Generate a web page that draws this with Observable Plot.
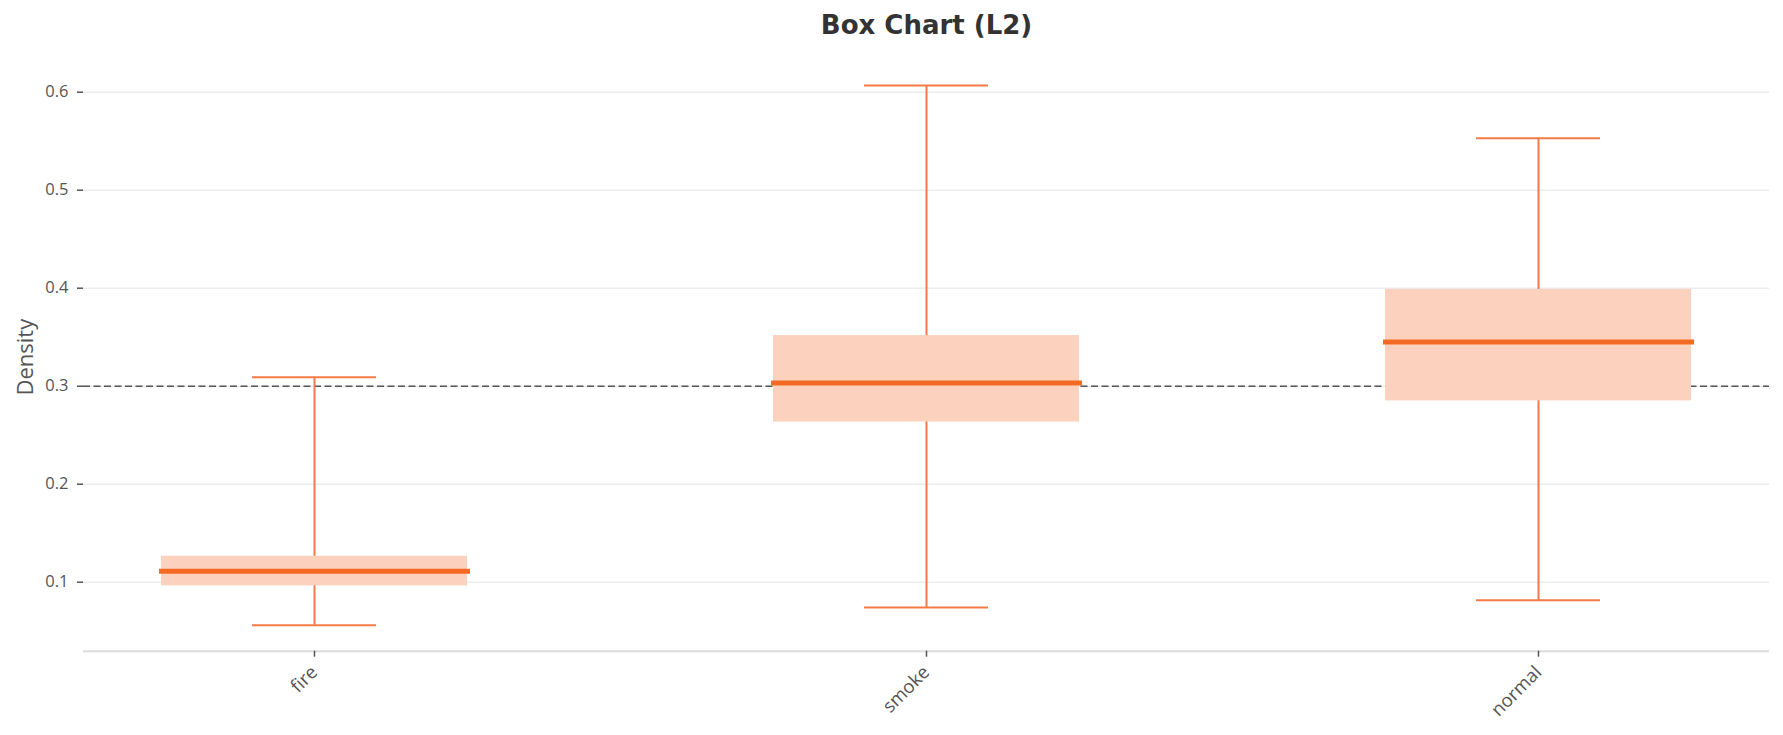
<!DOCTYPE html>
<html>
<head>
<meta charset="utf-8">
<script src="https://cdn.jsdelivr.net/npm/d3@7"></script>
<script src="https://cdn.jsdelivr.net/npm/@observablehq/plot@0.6"></script>
<style>
  html, body { margin: 0; padding: 0; background: #fff; }
  #title { height: 50px; line-height: 50px; width: 1783px; box-sizing: border-box; padding-left: 70px;
           text-align: center; font-family: "DejaVu Sans", sans-serif; font-weight: bold; font-size: 26px; color: #333; }
  #chart svg { display: block; }
</style>
</head>
<body>
<div id="title">Box Chart (L2)</div>
<div id="chart"></div>
<script>
const categories = ["fire", "smoke", "normal"];
const whiskerLow = [0.0561, 0.0743, 0.0815];
const quartile1 = [0.0962, 0.2634, 0.2850];
const medians = [0.1112, 0.3033, 0.3452];
const quartile3 = [0.1265, 0.3517, 0.3988];
const whiskerHigh = [0.3092, 0.6068, 0.5530];
const yTicks = [0.1, 0.2, 0.3, 0.4, 0.5, 0.6];
const threshold = [0.3];
const yDomain = [0.0296, 0.6296];
const yLabel = "Density";

const data = categories.map((c, i) => ({
  cat: c, lo: whiskerLow[i], q1: quartile1[i], med: medians[i], q3: quartile3[i], hi: whiskerHigh[i]
}));

const whisker = "#f47b45";
const chart = Plot.plot({
  width: 1783,
  height: 685,
  marginLeft: 83,
  marginRight: 14,
  marginTop: 12.7,
  marginBottom: 84.3,
  style: { fontFamily: "'Open Sans', sans-serif", fontSize: "16.5px", background: "#fff", color: "#555", maxWidth: "none" },
  x: { domain: categories, paddingInner: 0.5, paddingOuter: 0.126, align: 0.5, label: null },
  y: { domain: yDomain, label: null },
  marks: [
    Plot.gridY(yTicks, { stroke: "#ececec", strokeOpacity: 1, strokeWidth: 1.5 }),
    Plot.ruleY([yDomain[0]], { stroke: "#dcdcdc", strokeWidth: 2 }),
    Plot.ruleY(threshold, { stroke: "#555", strokeWidth: 1.5, strokeDasharray: "7,3.5" }),
    Plot.ruleX(data, { x: "cat", y1: "lo", y2: "hi", stroke: whisker, strokeWidth: 2 }),
    Plot.barY(data, { x: "cat", y1: "q1", y2: "q3", fill: "#fcd2bf" }),
    Plot.tickY(data, { x: "cat", y: "lo", stroke: whisker, strokeWidth: 2, insetLeft: 91, insetRight: 91 }),
    Plot.tickY(data, { x: "cat", y: "hi", stroke: whisker, strokeWidth: 2, insetLeft: 91, insetRight: 91 }),
    Plot.tickY(data, { x: "cat", y: "med", stroke: "#f26a24", strokeWidth: 5, insetLeft: -2, insetRight: -3 }),
    Plot.axisY(yTicks, { tickSize: 6, tickPadding: 9, fontSize: 16.5, color: "#555", strokeWidth: 1.5, label: null, tickFormat: d => d.toFixed(1) }),
    Plot.axisX({ tickSize: 6, tickPadding: 12, fontSize: 18.5, tickRotate: -45, color: "#555", strokeWidth: 1.5, label: null }),
    Plot.text([yLabel], { frameAnchor: "left", textAnchor: "middle", rotate: -90, dx: -58, fontSize: 22, fill: "#555" })
  ]
});
document.getElementById("chart").appendChild(chart);
</script>
</body>
</html>
